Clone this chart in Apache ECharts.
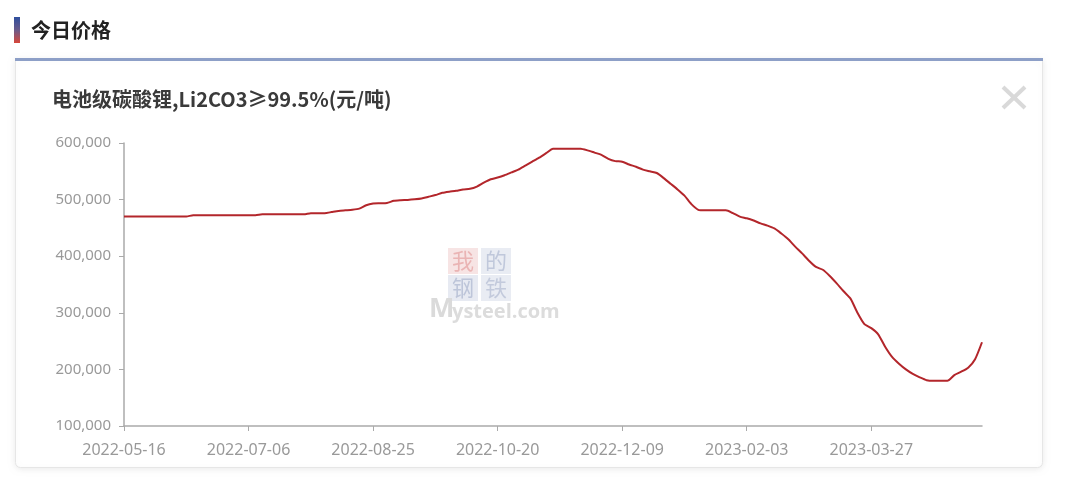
<!DOCTYPE html>
<html>
<head>
<meta charset="utf-8">
<script src="https://cdn.jsdelivr.net/npm/echarts@6/dist/echarts.min.js"></script>
<style>
html,body{margin:0;padding:0;background:#fff;}
#chart{width:1080px;height:500px;}
</style>
</head>
<body>
<div id="chart"></div>
<script>
const pageTitle = '今日价格';
const chartTitle = '电池级碳酸锂,Li2CO3≥99.5%(元/吨)';
const categories = [
'2022-05-16','2022-05-18','2022-05-20','2022-05-24','2022-05-26','2022-05-30','2022-06-01','2022-06-06','2022-06-08','2022-06-10',
'2022-06-14','2022-06-16','2022-06-20','2022-06-22','2022-06-24','2022-06-28','2022-06-30','2022-07-04','2022-07-06',
'2022-07-08','2022-07-12','2022-07-14','2022-07-18','2022-07-20','2022-07-22','2022-07-26','2022-07-28','2022-08-01','2022-08-03',
'2022-08-05','2022-08-09','2022-08-11','2022-08-15','2022-08-17','2022-08-19','2022-08-23','2022-08-25',
'2022-08-29','2022-08-31','2022-09-02','2022-09-06','2022-09-08','2022-09-13','2022-09-15','2022-09-19','2022-09-21','2022-09-23',
'2022-09-27','2022-09-29','2022-10-10','2022-10-12','2022-10-14','2022-10-17','2022-10-18','2022-10-20',
'2022-10-24','2022-10-26','2022-10-28','2022-11-01','2022-11-03','2022-11-07','2022-11-09','2022-11-11','2022-11-15','2022-11-17',
'2022-11-21','2022-11-23','2022-11-25','2022-11-29','2022-12-01','2022-12-05','2022-12-07','2022-12-09',
'2022-12-13','2022-12-15','2022-12-19','2022-12-21','2022-12-23','2022-12-27','2022-12-29','2023-01-03','2023-01-05','2023-01-09',
'2023-01-11','2023-01-13','2023-01-17','2023-01-19','2023-01-30','2023-02-01','2023-02-02','2023-02-03',
'2023-02-07','2023-02-09','2023-02-13','2023-02-15','2023-02-17','2023-02-21','2023-02-23','2023-02-27','2023-03-01','2023-03-03',
'2023-03-07','2023-03-09','2023-03-13','2023-03-15','2023-03-17','2023-03-21','2023-03-23','2023-03-27',
'2023-03-29','2023-03-31','2023-04-04','2023-04-06','2023-04-10','2023-04-12','2023-04-14','2023-04-18','2023-04-20','2023-04-24',
'2023-04-26','2023-04-28','2023-05-05','2023-05-09','2023-05-11','2023-05-15'
];
const prices = [
470000,470000,470000,470000,470000,470000,470000,470000,470000,470000,
472500,472500,472500,472500,472500,472500,472500,472500,472500,472500,
474000,474000,474000,474000,474000,474000,474000,476000,476000,476000,
478000,480000,481000,482000,484000,490000,493000,493500,494000,498000,
499000,499500,500500,502000,505000,508000,512000,514000,515500,518000,
519000,523000,530000,536000,539000,543000,548000,553000,560000,567000,
574000,582000,590000,590000,590000,590000,590000,587000,583000,579000,
572000,568000,567000,562000,558000,553000,550000,547000,538000,528000,
518000,507000,492000,482000,481000,481000,481000,481000,476000,470000,
467000,463000,458000,454000,449000,440000,430000,417000,405000,392000,
381000,376000,365000,352000,338000,325000,300000,280000,273000,262000,
240000,222000,210000,200000,192000,186000,181000,180000,180000,180000,
190000,196000,203000,218000,248000
];
const yMin = 100000, yMax = 600000, yStep = 100000;
const labelEvery = 18;

const chart = echarts.init(document.getElementById('chart'), null, {renderer:'canvas'});
const wm = [
  {ch:'我', x:448, y:248, bg:'#f7e4e4', fg:'#eab4b4'},
  {ch:'的', x:481, y:248, bg:'#e9ecf3', fg:'#c0c8db'},
  {ch:'钢', x:448, y:275, bg:'#e7eaf2', fg:'#bdc5d9'},
  {ch:'铁', x:481, y:275, bg:'#e9ecf3', fg:'#c3cadc'}
];
const graphics = [
  {type:'rect', z:0, shape:{x:14,y:17,width:6,height:26},
   style:{fill:new echarts.graphic.LinearGradient(0,0,0,1,[{offset:0,color:'#2f4f9e'},{offset:0.5,color:'#6a5a8a'},{offset:1,color:'#d8473a'}])}},
  {type:'text', z:0, x:31, y:30, style:{text:pageTitle, font:'bold 20px "Noto Sans CJK SC"', fill:'#222', textVerticalAlign:'middle'}},
  {type:'rect', z:0, shape:{x:15.5,y:59.5,width:1027,height:408,r:[0,0,5,5]},
   style:{fill:'#fff', stroke:'#e6e6e6', lineWidth:1, shadowBlur:6, shadowColor:'rgba(0,0,0,0.08)', shadowOffsetY:1}},
  {type:'rect', z:1, shape:{x:15,y:58,width:1028,height:3}, style:{fill:'#8d9fc7'}},
  {type:'line', z:1, shape:{x1:1003,y1:87,x2:1025,y2:108}, style:{stroke:'#d9d9d9', lineWidth:4}},
  {type:'line', z:1, shape:{x1:1025,y1:87,x2:1003,y2:108}, style:{stroke:'#d9d9d9', lineWidth:4}}
];
wm.forEach(w => {
  graphics.push({type:'rect', z:1, shape:{x:w.x,y:w.y,width:30,height:26}, style:{fill:w.bg}});
  graphics.push({type:'text', z:1, x:w.x+15, y:w.y+13, style:{text:w.ch, font:'22px "Noto Sans CJK SC"', fill:w.fg, textAlign:'center', textVerticalAlign:'middle'}});
});
graphics.push({type:'text', z:1, x:429, y:309, style:{text:'M', font:'bold 27px "Open Sans"', fill:'#dadada', textVerticalAlign:'middle'}});
graphics.push({type:'text', z:1, x:452, y:312, style:{text:'ysteel.com', font:'bold 20px "Open Sans"', fill:'#dcdcdc', textVerticalAlign:'middle'}});

chart.setOption({
  backgroundColor:'#fff',
  animation:false,
  title:{text:chartTitle, left:52, top:89, padding:0,
    textStyle:{fontSize:20, fontWeight:'bold', color:'#3a3a3a', fontFamily:'"Noto Sans CJK SC"'}},
  graphic:graphics,
  grid:{left:124, right:98, top:143, bottom:74, containLabel:false},
  xAxis:{
    type:'category', data:categories, boundaryGap:false,
    axisLine:{lineStyle:{color:'#aaa', width:1.5}},
    axisTick:{interval:labelEvery-1, length:5, lineStyle:{color:'#aaa'}},
    axisLabel:{interval:labelEvery-1, color:'#999', fontSize:16, margin:16, fontFamily:'"Noto Sans"'},
    splitLine:{show:false}
  },
  yAxis:{
    type:'value', min:yMin, max:yMax, interval:yStep,
    axisLine:{show:true, lineStyle:{color:'#aaa', width:1.5}},
    axisTick:{show:true, length:5, lineStyle:{color:'#aaa'}},
    axisLabel:{color:'#999', fontSize:15, margin:13, fontFamily:'"Noto Sans"',
      formatter:v => v.toLocaleString('en-US')},
    splitLine:{show:false}
  },
  series:[{
    type:'line', data:prices, showSymbol:false, smooth:0.2, z:5,
    lineStyle:{color:'#b3262b', width:2}
  }]
});
</script>
</body>
</html>
